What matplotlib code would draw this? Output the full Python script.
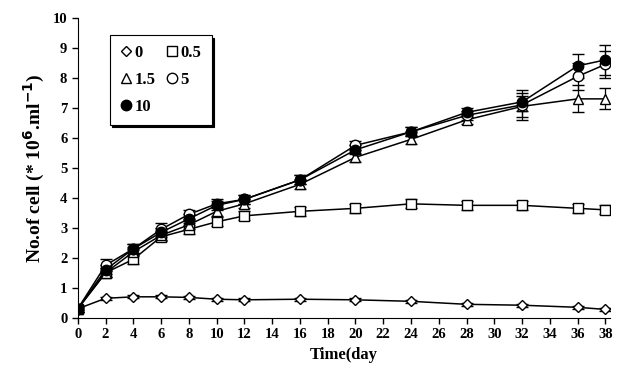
import matplotlib.pyplot as plt
from matplotlib.lines import Line2D

plt.rcParams["font.family"] = ["Liberation Serif", "DejaVu Serif"]
plt.rcParams["font.weight"] = "bold"

days = [0, 2, 4, 6, 8, 10, 12, 16, 20, 24, 28, 32, 36, 38]

c0 = [0.3, 0.65, 0.7, 0.7, 0.68, 0.62, 0.6, 0.62, 0.6, 0.55, 0.45, 0.42, 0.35, 0.28]
c05 = [0.3, 1.5, 1.95, 2.7, 2.95, 3.2, 3.4, 3.55, 3.65, 3.8, 3.75, 3.75, 3.65, 3.6]
c15 = [0.3, 1.5, 2.2, 2.75, 3.1, 3.55, 3.8, 4.45, 5.35, 5.95, 6.6, 7.05, 7.3, 7.3]
c5 = [0.3, 1.75, 2.3, 2.95, 3.45, 3.8, 3.95, 4.6, 5.75, 6.2, 6.75, 7.1, 8.05, 8.45]
c10 = [0.3, 1.6, 2.3, 2.85, 3.3, 3.75, 3.95, 4.6, 5.6, 6.2, 6.85, 7.2, 8.4, 8.6]

e0 = [0.05, 0.05, 0.05, 0.05, 0.05, 0.05, 0.05, 0.05, 0.05, 0.05, 0.05, 0.05, 0.05, 0.05]
e05 = [0.1, 0.15, 0.15, 0.15, 0.15, 0.15, 0.15, 0.15, 0.15, 0.15, 0.15, 0.15, 0.15, 0.15]
e15 = [0.1, 0.15, 0.15, 0.15, 0.15, 0.15, 0.15, 0.15, 0.15, 0.15, 0.15, 0.35, 0.45, 0.35]
e5 = [0.1, 0.2, 0.15, 0.2, 0.15, 0.15, 0.15, 0.15, 0.15, 0.15, 0.15, 0.5, 0.45, 0.45]
e10 = [0.1, 0.15, 0.15, 0.15, 0.15, 0.15, 0.15, 0.15, 0.15, 0.15, 0.15, 0.3, 0.4, 0.5]

labels = ["0", "0.5", "1.5", "5", "10"]

fig = plt.figure(figsize=(6.17, 3.89), dpi=100)
ax = fig.add_axes([0.126, 0.183, 0.862, 0.771])

series = [
    (c0, e0, "D", "white", 5.5),
    (c05, e05, "s", "white", 7.5),
    (c15, e15, "^", "white", 7),
    (c5, e5, "o", "white", 7.5),
    (c10, e10, "o", "black", 7.5),
]
handles = []
for (vals, errs, m, fc, ms), lab in zip(series, labels):
    ax.errorbar(days, vals, yerr=errs, color="black", lw=1.1,
                marker=m, mfc=fc, mec="black", mew=1.0, ms=ms,
                capsize=4, elinewidth=0.9, capthick=0.9)
    handles.append(Line2D([], [], ls="none", marker=m, mfc=fc, mec="black",
                          mew=1.0, ms=ms))

ax.set_xlim(0, 38.3)
ax.set_ylim(0, 10)
ax.set_xticks(range(0, 39, 2))
ax.set_yticks(range(0, 11))
ax.spines["top"].set_visible(False)
ax.spines["right"].set_visible(False)
ax.tick_params(direction="out", length=4, width=1, labelsize=10.5)
for t in ax.get_xticklabels() + ax.get_yticklabels():
    t.set_fontweight("bold")

ax.set_xlabel("Time(day", fontsize=12, fontweight="bold")
ax.set_ylabel("No.of cell (* 10$^\\mathbf{6}$.ml$^\\mathbf{-1}$)", fontsize=14, fontweight="bold")

# column-major order: first column 0,1.5,10 ; second column 0.5,5
order = [0, 2, 4, 1, 3]
leg = ax.legend([handles[i] for i in order], [labels[i] for i in order],
                ncol=2, loc="upper left", bbox_to_anchor=(0.06, 0.943),
                borderaxespad=0,
                frameon=True, fancybox=False, edgecolor="black",
                shadow={"color": "black", "alpha": 1, "ox": 2, "oy": -2},
                handlelength=0.8, handletextpad=0.1, columnspacing=0.6,
                labelspacing=0.65, borderpad=0.6,
                prop={"weight": "bold", "size": 12})
leg.get_frame().set_linewidth(0.8)

fig.savefig("out.png", dpi=100)
